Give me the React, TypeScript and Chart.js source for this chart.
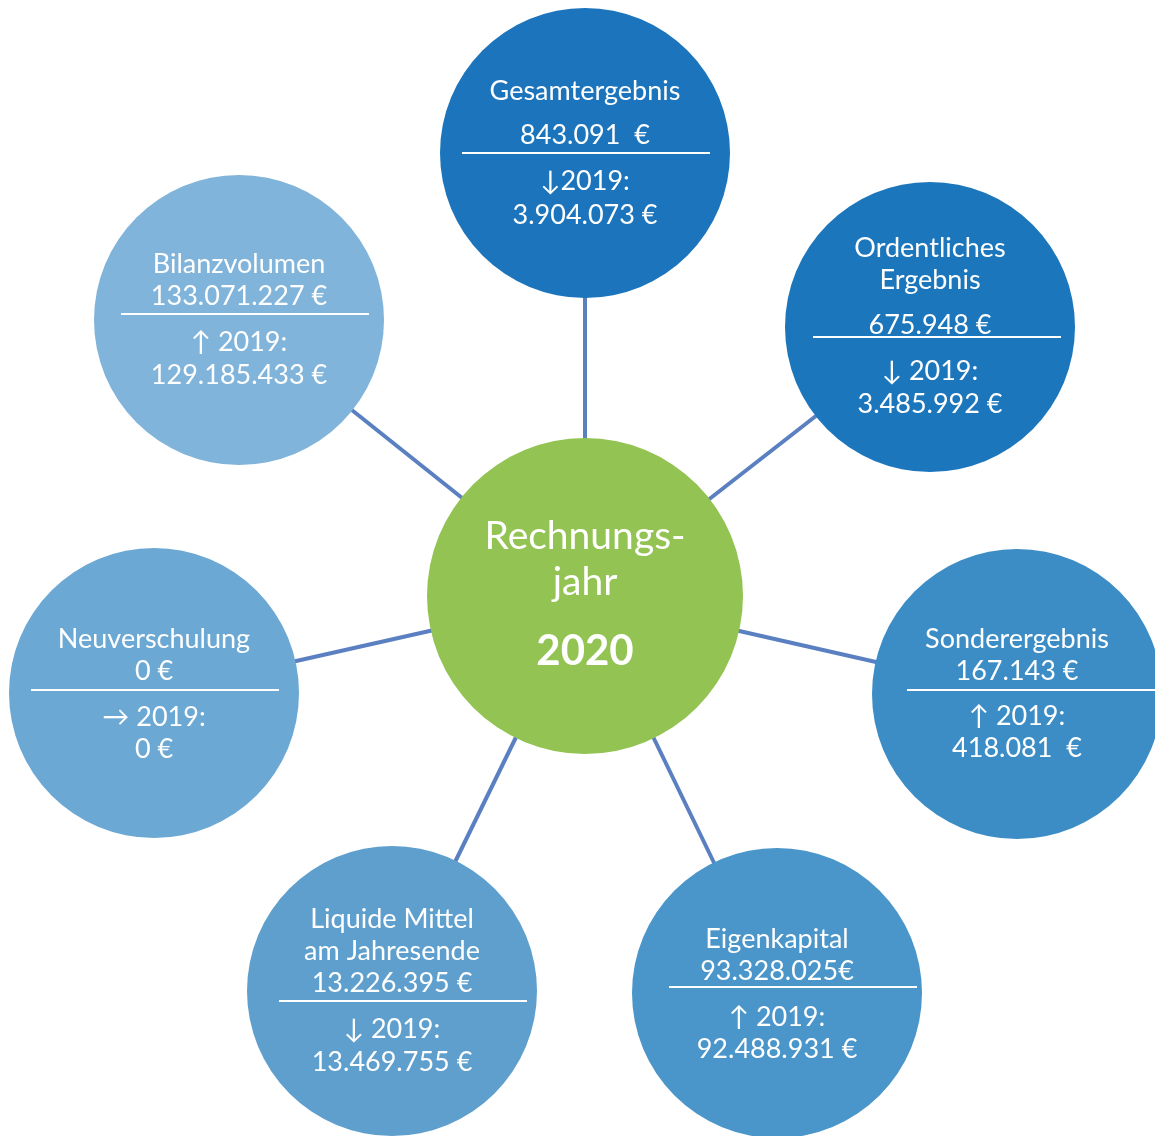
import React, { useEffect, useRef } from "react";
import { Chart, registerables } from "chart.js";

Chart.register(...registerables);

// ---- data ----
const centerTitle = ["Rechnungs-", "jahr"];
const centerYear = "2020";
const centerX = 585;
const centerY = 596;

const nodeTitles: string[][] = [
  ["Gesamtergebnis"],
  ["Ordentliches", "Ergebnis"],
  ["Sonderergebnis"],
  ["Eigenkapital"],
  ["Liquide Mittel", "am Jahresende"],
  ["Neuverschulung"],
  ["Bilanzvolumen"],
];
const values2020 = [
  "843.091  €",
  "675.948 €",
  "167.143 €",
  "93.328.025€",
  "13.226.395 €",
  "0 €",
  "133.071.227 €",
];
const trendArrows = ["↓", "↓ ", "↑ ", "↑ ", "↓ ", "→ ", "↑ "];
const priorYearLabel = "2019:";
const values2019 = [
  "3.904.073 €",
  "3.485.992 €",
  "418.081  €",
  "92.488.931 €",
  "13.469.755 €",
  "0 €",
  "129.185.433 €",
];
const nodeX = [585, 930, 1017, 777, 392, 154, 239];
const nodeY = [153, 327, 694, 993, 991, 693, 320];

// ---- layout / style ----
const W = 1155;
const H = 1136;
const outerRadius = 145;
const centerRadius = 158;
const nodeColors = ["#1C75BC", "#1C76BC", "#3C8DC6", "#4A95C9", "#5E9FCE", "#6CA8D4", "#80B4DA"];
const centerColor = "#92C353";
const linkColor = "#5B80C1";
const FONT = "Lato, 'Open Sans', 'DejaVu Sans', sans-serif";
// per node: title dy list, value dy, divider dy, arrow dy, prior dy, divider dx0, dx1
const textLayout = [
  { titles: [-62], value: -18, div: 0, arrow: 28, prior: 62, dx0: -123, dx1: 125 },
  { titles: [-79, -47], value: -2, div: 10, arrow: 44, prior: 77, dx0: -117, dx1: 131 },
  { titles: [-55], value: -23, div: -4, arrow: 22, prior: 54, dx0: -110, dx1: 138 },
  { titles: [-54], value: -22, div: -6, arrow: 24, prior: 56, dx0: -108, dx1: 140 },
  { titles: [-72, -40], value: -8, div: 10, arrow: 38, prior: 71, dx0: -113, dx1: 135 },
  { titles: [-54], value: -22, div: -3, arrow: 24, prior: 56, dx0: -123, dx1: 125 },
  { titles: [-56], value: -24, div: -6, arrow: 22, prior: 55, dx0: -118, dx1: 130 },
];

const textPlugin = {
  id: "nodeText",
  afterDatasetsDraw(chart: any) {
    const { ctx, scales } = chart;
    const sx = scales.x;
    const sy = scales.y;
    ctx.save();
    ctx.fillStyle = "#ffffff";
    ctx.strokeStyle = "#ffffff";
    ctx.textAlign = "center";
    ctx.textBaseline = "middle";
    nodeTitles.forEach((titles, i) => {
      const px = sx.getPixelForValue(nodeX[i]);
      const py = sy.getPixelForValue(nodeY[i]);
      const L = textLayout[i];
      ctx.font = `27px ${FONT}`;
      titles.forEach((t, k) => ctx.fillText(t, px, py + L.titles[k]));
      ctx.fillText(values2020[i], px, py + L.value);
      ctx.fillText(trendArrows[i] + priorYearLabel, px, py + L.arrow);
      ctx.fillText(values2019[i], px, py + L.prior);
      ctx.lineWidth = 2;
      ctx.beginPath();
      ctx.moveTo(px + L.dx0, py + L.div);
      ctx.lineTo(px + L.dx1, py + L.div);
      ctx.stroke();
    });
    const cx = sx.getPixelForValue(centerX);
    const cy = sy.getPixelForValue(centerY);
    ctx.font = `39px ${FONT}`;
    ctx.fillText(centerTitle[0], cx, cy - 60);
    ctx.fillText(centerTitle[1], cx, cy - 14);
    ctx.font = `bold 42px ${FONT}`;
    ctx.fillText(centerYear, cx, cy + 55);
    ctx.restore();
  },
};

export default function App() {
  const ref = useRef<HTMLCanvasElement | null>(null);
  useEffect(() => {
    document.body.style.margin = "0";
    const canvas = ref.current!;
    const linkSets = nodeX.map((x, i) => ({
      type: "line" as const,
      data: [
        { x: centerX, y: centerY },
        { x, y: nodeY[i] },
      ],
      borderColor: linkColor,
      borderWidth: 4,
      pointRadius: 0,
      showLine: true,
      fill: false,
      clip: false,
      order: 2,
    }));
    const chart = new Chart(canvas, {
      type: "scatter",
      data: {
        datasets: [
          {
            data: [...nodeX.map((x, i) => ({ x, y: nodeY[i] })), { x: centerX, y: centerY }],
            pointRadius: [...nodeX.map(() => outerRadius), centerRadius],
            pointHoverRadius: [...nodeX.map(() => outerRadius), centerRadius],
            backgroundColor: [...nodeColors, centerColor],
            borderWidth: 0,
            pointBorderWidth: 0,
            clip: false,
            order: 1,
          } as any,
          ...linkSets,
        ],
      },
      options: {
        animation: false,
        responsive: false,
        events: [],
        layout: { padding: 0, autoPadding: false },
        plugins: { legend: { display: false }, tooltip: { enabled: false } },
        scales: {
          x: { type: "linear", min: 0, max: W, display: false },
          y: { type: "linear", min: 0, max: H, reverse: true, display: false },
        },
      },
      plugins: [textPlugin],
    });
    return () => chart.destroy();
  }, []);
  return (
    <div style={{ position: "fixed", left: 0, top: 0, width: W, height: H, background: "#fff" }}>
      <canvas ref={ref} width={W} height={H} style={{ width: W, height: H, display: "block" }} />
    </div>
  );
}
